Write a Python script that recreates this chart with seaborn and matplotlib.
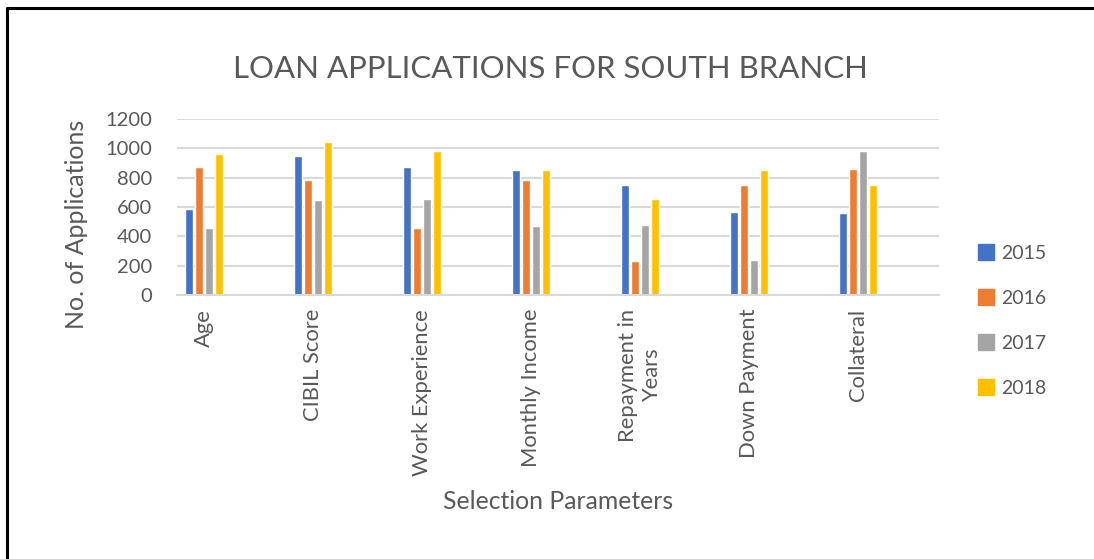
import pandas as pd
import matplotlib.pyplot as plt
import seaborn as sns
from matplotlib.lines import Line2D

# Loan applications, South branch
parameters = ["Age", "CIBIL Score", "Work Experience", "Monthly Income",
              "Repayment in\nYears", "Down Payment", "Collateral"]
years = ["2015", "2016", "2017", "2018"]
apps_2015 = [585, 950, 875, 855, 750, 565, 560]
apps_2016 = [875, 785, 455, 785, 230, 750, 862]
apps_2017 = [455, 650, 655, 472, 474, 240, 981]
apps_2018 = [965, 1045, 985, 855, 652, 855, 750]
colors = ["#4472C4", "#ED7D31", "#A5A5A5", "#FFC000"]

rows = []
for year, vals in zip(years, [apps_2015, apps_2016, apps_2017, apps_2018]):
    for p, v in zip(parameters, vals):
        rows.append({"Parameter": p, "Year": year, "Applications": v})
df = pd.DataFrame(rows)

sns.set_style("white")
plt.rcParams['font.family'] = ['Lato', 'DejaVu Sans']
txt = "#595959"

fig = plt.figure(figsize=(10.94, 5.59), dpi=100)
ax = fig.add_axes([0.1618, 0.4723, 0.6965, 0.3147])

sns.barplot(data=df, x="Parameter", y="Applications", hue="Year",
            palette=colors, width=0.367, gap=0.2, saturation=1,
            errorbar=None, ax=ax)

ax.set_ylim(0, 1200)
ax.set_xlim(-0.248, 6.743)
ax.set_yticks(range(0, 1201, 200))
ax.yaxis.grid(True, color="#D9D9D9", linewidth=1.5)
ax.set_axisbelow(True)
for s in ["top", "right", "left"]:
    ax.spines[s].set_visible(False)
ax.spines["bottom"].set_color("#D9D9D9")
ax.spines["bottom"].set_linewidth(1.5)
ax.tick_params(axis="y", length=0, pad=18, labelsize=14.5, labelcolor=txt)
ax.tick_params(axis="x", length=0, pad=10, labelsize=15.8, labelcolor=txt)
plt.setp(ax.get_xticklabels(), rotation=90, va="top", ha="center",
         multialignment="center")

ax.set_xlabel("Selection Parameters", fontsize=17.8, color=txt, labelpad=10)
ax.set_ylabel("No. of Applications", fontsize=18, color=txt)
ax.yaxis.set_label_coords(-0.117, 0.40)
fig.text(0.503, 0.877, "LOAN APPLICATIONS FOR SOUTH BRANCH", ha="center",
         va="center", fontsize=22.4, color=txt)

ax.legend_.remove()
handles = [Line2D([], [], marker="s", linestyle="", markersize=12,
                  markerfacecolor=c, markeredgecolor=c) for c in colors]
fig.legend(handles, years, loc="center left", bbox_to_anchor=(0.876, 0.426),
           frameon=False, fontsize=14, labelcolor=txt, labelspacing=1.45,
           handletextpad=0.3, handlelength=1.0)

# chart border (left and top edges visible)
fig.add_artist(Line2D([0.0064, 0.0064], [0, 0.985], transform=fig.transFigure,
                      color="black", linewidth=2.2))
fig.add_artist(Line2D([0.0064, 1.0], [0.985, 0.985], transform=fig.transFigure,
                      color="black", linewidth=2.2))

fig.savefig("out.png", dpi=100)
